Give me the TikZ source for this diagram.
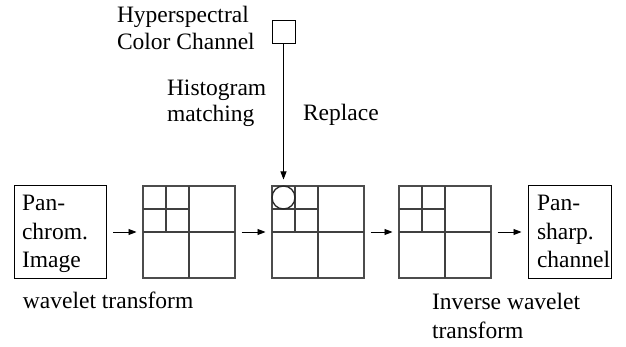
\documentclass[tikz,border=0pt]{standalone}
\usepackage{fontspec}
\setmainfont{Liberation Serif}
\usetikzlibrary{arrows.meta,calc}
\begin{document}
\begin{tikzpicture}[x=1pt,y=-1pt,
  every node/.style={inner sep=0pt, outer sep=0pt},
  lbl/.style={anchor=base west, align=left, font=\fontsize{23.5}{27}\selectfont},
  boxtxt/.style={anchor=base west, align=left, font=\fontsize{23.5}{28.5}\selectfont},
  plainbox/.style={draw=black, line width=1pt, minimum height=92pt},
  gridbox/.style={draw=black!70, line width=1.4pt, minimum width=92pt, minimum height=92pt},
  gridline/.style={draw=black!75, line width=1.4pt},
  flow/.style={-{Triangle[length=8pt,width=6pt]}, line width=0.9pt, shorten <=6.5pt, shorten >=6.5pt}]
\useasboundingbox (0,0) rectangle (626,347);

% source channel (multi-line labels are placed by their last baseline)
\node[draw=black, line width=1pt, minimum width=23pt, minimum height=23pt] (src) at (283.5,32.5) {};
\node[lbl] (srclbl) at (117,50) {Hyperspectral\\Color Channel};
\node[lbl, font=\fontsize{23.5}{26}\selectfont] (hist) at (167,122) {Histogram\\matching};
\node[lbl] (repl) at (303,121) {Replace};

% row of images
\node[plainbox, minimum width=92.5pt] (pan) at (60.5,232) {};
\node[gridbox] (g1) at (189,232) {};
\node[gridbox] (g2) at (318,232) {};
\node[gridbox] (g3) at (445,232) {};
\node[plainbox, minimum width=83pt] (out) at (569.5,232) {};

\node[boxtxt] (pantxt) at (22,268) {Pan-\\chrom.\\Image};
\node[boxtxt] (outtxt) at (537,268) {Pan-\\sharp.\\channel};

% wavelet subbands: quadrants, then the top-left quadrant split again
\foreach \g in {g1,g2,g3}{
  \coordinate (\g-qt) at ($(\g.north west)!0.5!(\g.north)$);
  \coordinate (\g-ql) at ($(\g.north west)!0.5!(\g.west)$);
  \draw[gridline] (\g.north) -- (\g.south);
  \draw[gridline] (\g.west) -- (\g.east);
  \draw[gridline] (\g-qt) -- (\g-qt |- \g.center);
  \draw[gridline] (\g-ql) -- (\g-ql -| \g.center);
}
% the replaced coarse coefficient block
\node[draw=black!85, line width=1.3pt, circle, minimum size=23pt] (coef) at ($(g2.north west)!0.125!(g2.south east)$) {};

% connectors
\draw[flow] (pan) -- (g1);
\draw[flow] (g1) -- (g2);
\draw[flow] (g2) -- (g3);
\draw[flow] (g3) -- (out);
\draw[flow, shorten <=0pt] (src) -- (src |- g2.north);

\node[lbl] (fwd) at (23,308) {wavelet transform};
\node[lbl, font=\fontsize{23.5}{29}\selectfont] (inv) at (432,338) {Inverse wavelet\\transform};
\end{tikzpicture}
\end{document}
